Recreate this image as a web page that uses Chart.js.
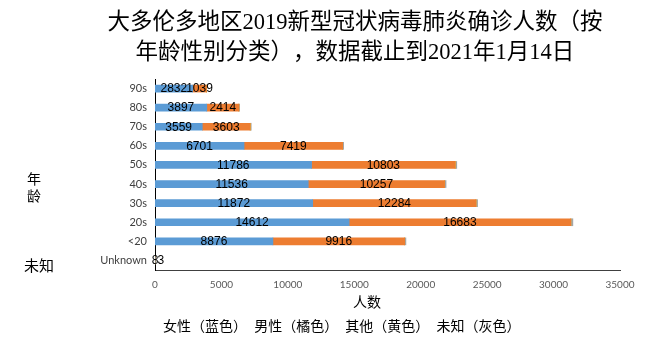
<!DOCTYPE html>
<html>
<head>
<meta charset="utf-8">
<script src="https://cdn.jsdelivr.net/npm/chart.js@4/dist/chart.umd.min.js"></script>
<style>
  html, body { margin: 0; padding: 0; background: #fff; }
  #wrap { position: relative; width: 655px; height: 339px; overflow: hidden; }
  #c { position: absolute; left: 0; top: 0; }
  .t { position: absolute; white-space: nowrap; color: #000; text-spacing-trim: space-all; }
  #title { left: 55px; width: 600px; top: 7px; text-align: center; font: 22.5px/30px "Liberation Serif", "Noto Sans CJK SC", serif; }
  #ylab { left: 26px; top: 170px; font: 14px/17px "Noto Sans CJK SC", sans-serif; width: 16px; text-align: center; }
  #unk { left: 24px; top: 256px; font: 15px/18px "Noto Sans CJK SC", sans-serif; }
  #xlab { left: 353px; top: 292px; font: 14px/18px "Noto Sans CJK SC", sans-serif; }
  #leg { left: 163px; top: 316px; font: 14px/18px "Noto Sans CJK SC", sans-serif; word-spacing: 4px; }
</style>
</head>
<body>
<div id="wrap">
  <canvas id="c" width="655" height="339"></canvas>
  <div class="t" id="title">大多伦多地区2019新型冠状病毒肺炎确诊人数（按<br>年龄性别分类），数据截止到2021年1月14日</div>
  <div class="t" id="ylab">年<br>龄</div>
  <div class="t" id="unk">未知</div>
  <div class="t" id="xlab">人数</div>
  <div class="t" id="leg">女性（蓝色） 男性（橘色） 其他（黄色） 未知（灰色）</div>
</div>
<script>
const categories = ["90s", "80s", "70s", "60s", "50s", "40s", "30s", "20s", "<20", "Unknown"];
const female  = [2832, 3897, 3559, 6701, 11786, 11536, 11872, 14612, 8876, 8];
const male    = [1039, 2414, 3603, 7419, 10803, 10257, 12284, 16683, 9916, 3];
const other   = [0, 0, 2, 3, 5, 5, 6, 8, 4, 0];
const unknown = [20, 60, 80, 80, 120, 110, 120, 150, 90, 0];
const xTicks  = [0, 5000, 10000, 15000, 20000, 25000, 30000, 35000];

const labelPlugin = {
  id: 'segLabels',
  afterDatasetsDraw(chart) {
    const ctx = chart.ctx;
    ctx.save();
    ctx.font = '12px "Liberation Sans", Arial, sans-serif';
    ctx.fillStyle = '#000';
    ctx.textBaseline = 'middle';
    ctx.textAlign = 'left';
    const nCat = categories.length;
    for (let i = 0; i < nCat; i++) {
      let prevEnd = -Infinity;
      [0, 1].forEach(di => {
        const meta = chart.getDatasetMeta(di);
        const el = meta.data[i];
        const v = chart.data.datasets[di].data[i];
        const txt = String(v);
        const w = ctx.measureText(txt).width;
        const cx = (el.x + el.base) / 2;
        let start = cx - w / 2;
        if (start < prevEnd - 1) start = prevEnd - 1;
        ctx.fillText(txt, start, el.y + 0.5);
        prevEnd = start + w;
      });
    }
    ctx.restore();
  }
};

new Chart(document.getElementById('c'), {
  type: 'bar',
  data: {
    labels: categories,
    datasets: [
      { label: '女性', data: female, backgroundColor: '#5B9BD5' },
      { label: '男性', data: male, backgroundColor: '#ED7D31' },
      { label: '其他', data: other, backgroundColor: '#FFC000' },
      { label: '未知', data: unknown, backgroundColor: '#A5A5A5' }
    ]
  },
  options: {
    indexAxis: 'y',
    responsive: false,
    animation: false,
    devicePixelRatio: 1,
    layout: { padding: { left: 0, right: 35, top: 79, bottom: 0 } },
    datasets: { bar: { barThickness: 7, borderWidth: 0 } },
    plugins: { legend: { display: false }, tooltip: { enabled: false }, title: { display: false } },
    scales: {
      x: {
        stacked: true,
        min: 0, max: 35000,
        afterBuildTicks(scale) { scale.ticks = xTicks.map(v => ({ value: v })); },
        afterFit(scale) { scale.height = 69; },
        grid: { display: false, drawTicks: false },
        border: { display: true, color: '#404040', width: 1 },
        ticks: { padding: 9, color: '#595959', font: { family: 'Lato, "Liberation Sans", sans-serif', size: 10 }, maxRotation: 0,
                 callback: (v) => String(v) }
      },
      y: {
        stacked: true,
        afterFit(scale) { scale.width = 155; },
        grid: { display: false, drawTicks: false },
        border: { display: true, color: '#000', width: 1 },
        ticks: { padding: 8, color: '#404040', font: { family: 'Lato, "Liberation Sans", sans-serif', size: 11 } }
      }
    }
  },
  plugins: [labelPlugin]
});
</script>
</body>
</html>
